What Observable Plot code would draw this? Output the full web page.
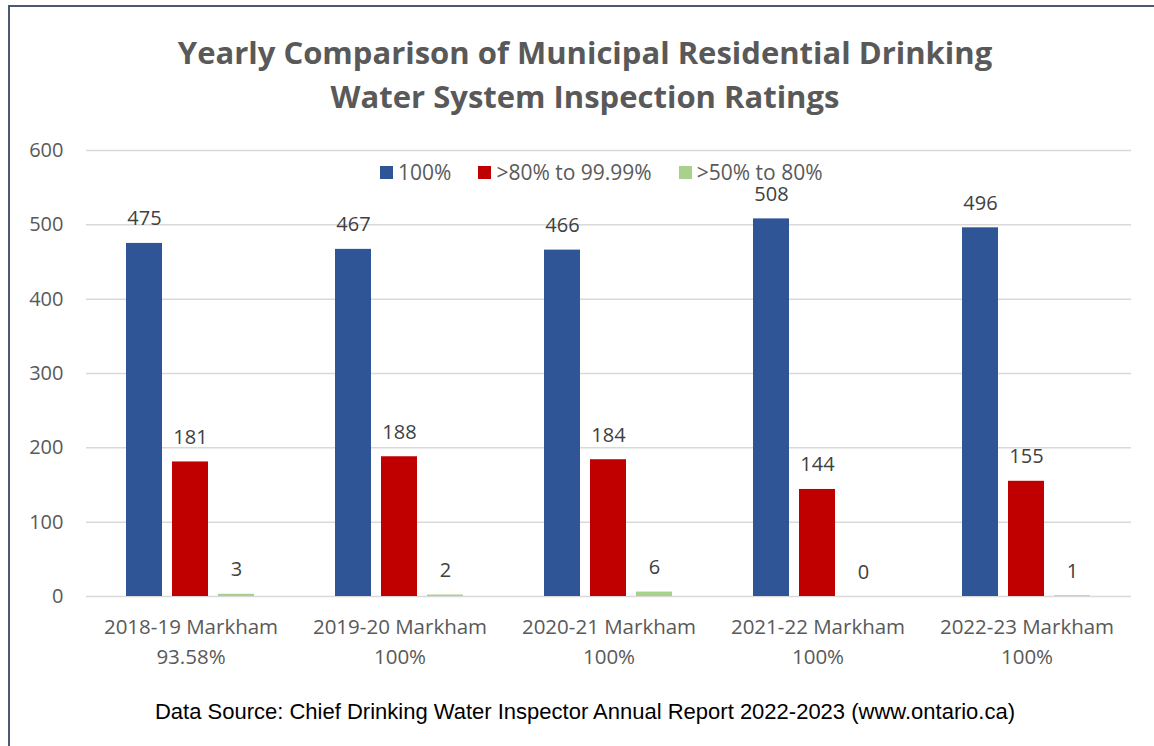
<!DOCTYPE html>
<html>
<head>
<meta charset="utf-8">
<script src="https://cdn.jsdelivr.net/npm/d3@7"></script>
<script src="https://cdn.jsdelivr.net/npm/@observablehq/plot@0.6"></script>
<style>
  html, body { margin: 0; padding: 0; background: #fff; overflow: hidden; }
  #wrap { position: relative; width: 1154px; height: 746px; }
  #frame { position: absolute; left: 8px; top: 5px; width: 1300px; height: 900px;
           border-left: 2px solid #4b5a72; border-top: 2px solid #4b5a72; box-sizing: border-box; }
  #title { position: absolute; left: 0; top: 30px; width: 1170px; text-align: center;
           font-family: "Open Sans", sans-serif; font-weight: bold; font-size: 31px;
           line-height: 44px; color: #595959; }
  #chart { position: absolute; left: 0; top: 130px; }
  #legend { position: absolute; top: 161px; left: 380px; display: flex; align-items: center;
            font-family: "Open Sans", sans-serif; font-size: 21px; line-height: 22px; color: #595959; }
  #legend .item { display: flex; align-items: center; margin-right: 27px; }
  #legend .sw { width: 13px; height: 13px; margin-right: 5px; }
  #caption { position: absolute; left: 0; top: 699px; width: 1170px; text-align: center;
             font-family: "Liberation Sans", sans-serif; font-size: 22px; color: #000; }
</style>
</head>
<body>
<div id="wrap">
  <div id="frame"></div>
  <div id="title">Yearly Comparison of Municipal Residential Drinking<br>Water System Inspection Ratings</div>
  <div id="chart"></div>
  <div id="legend"></div>
  <div id="caption">Data Source: Chief Drinking Water Inspector Annual Report 2022-2023 (www.ontario.ca)</div>
</div>
<script>
const years = ["2018-19 Markham", "2019-20 Markham", "2020-21 Markham", "2021-22 Markham", "2022-23 Markham"];
const markhamRatings = ["93.58%", "100%", "100%", "100%", "100%"];
const series = ["100%", ">80% to 99.99%", ">50% to 80%"];
const colors = ["#2f5597", "#c00000", "#a9d18e"];
const values100 = [475, 467, 466, 508, 496];
const values80 = [181, 188, 184, 144, 155];
const values50 = [3, 2, 6, 0, 1];
const yTicks = [0, 100, 200, 300, 400, 500, 600];

const categories = years.map((y, i) => y + "\n" + markhamRatings[i]);
const seriesValues = [values100, values80, values50];
const data = [];
categories.forEach((c, i) => series.forEach((s, j) => data.push({cat: c, series: s, value: seriesValues[j][i]})));

const plot = Plot.plot({
  width: 1154, height: 550,
  marginLeft: 85, marginRight: 22, marginTop: 20, marginBottom: 84,
  style: {fontFamily: "Open Sans, sans-serif", fontSize: "20px", color: "#595959", background: "transparent"},
  fx: {domain: categories, padding: 0, label: null, axis: null},
  x: {domain: series, paddingInner: 0.21, paddingOuter: 0.83, axis: null},
  y: {domain: [0, 600], label: null, axis: null},
  color: {domain: series, range: colors},
  marks: [
    Plot.gridY(yTicks, {stroke: "#d9d9d9", strokeOpacity: 1, strokeWidth: 1.5}),
    Plot.barY(data, {fx: "cat", x: "series", y: "value", fill: "series"}),
    Plot.text(data, {fx: "cat", x: "series", y: "value", text: d => String(d.value),
      lineAnchor: "bottom", dy: -18, fill: "#404040", fontSize: 20}),
    Plot.axisY({ticks: yTicks, tickSize: 0, tickPadding: 23, fontSize: 20, fill: "#595959", label: null}),
    Plot.axisFx({anchor: "bottom", tickSize: 0, tickPadding: 16, fontSize: 20.5, lineHeight: 1.46, fill: "#595959", label: null})
  ]
});
document.getElementById("chart").appendChild(plot);

const legend = document.getElementById("legend");
series.forEach((s, i) => {
  const item = document.createElement("div");
  item.className = "item";
  const sw = document.createElement("div");
  sw.className = "sw";
  sw.style.background = colors[i];
  const t = document.createElement("span");
  t.textContent = s;
  item.appendChild(sw); item.appendChild(t);
  legend.appendChild(item);
});
</script>
</body>
</html>
